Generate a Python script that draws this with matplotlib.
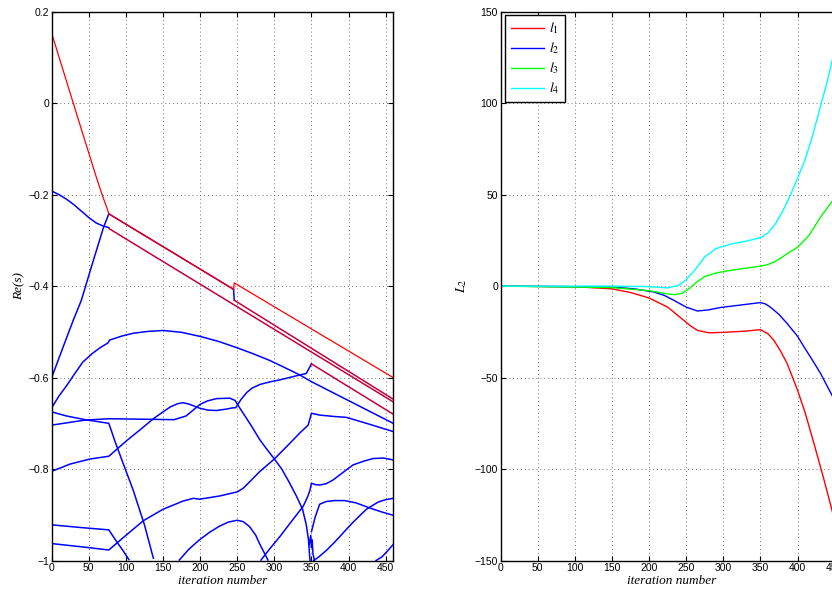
import numpy as np
import matplotlib
matplotlib.use("Agg")
import matplotlib.pyplot as plt

plt.rcParams['font.family'] = ['Liberation Sans', 'DejaVu Sans']
plt.rcParams['mathtext.fontset'] = 'stix'
plt.rcParams['axes.unicode_minus'] = True

# ---- left panel: real parts of the eigenvalues vs iteration ----
red_x = [0, 20, 40, 60, 69, 74, 77, 245, 246, 460]
red_y = [0.153, 0.048, -0.057, -0.161, -0.205, -0.227, -0.242, -0.407, -0.393, -0.600]

# branches where red and blue coincide (drawn dark crimson)
pa_x = [77, 245]
pa_y = [-0.242, -0.407]
pb_x = [77, 460]
pb_y = [-0.274, -0.653]
pc_x = [246, 460]
pc_y = [-0.431, -0.647]
pd_x = [350, 460]
pd_y = [-0.570, -0.680]

b1_x = [0, 10, 20, 30, 40, 50, 60, 70, 77]
b1_y = [-0.192, -0.200, -0.210, -0.222, -0.236, -0.250, -0.262, -0.269, -0.272]

b2_x = [0, 15, 29, 40, 52, 62, 70, 77]
b2_y = [-0.600, -0.535, -0.475, -0.431, -0.366, -0.313, -0.271, -0.242]

b3_x = [0, 10, 20, 30, 42, 55, 65, 76, 78, 95, 110, 130, 150, 175, 200, 225, 250,
        270, 293, 310, 334, 350, 460]
b3_y = [-0.666, -0.640, -0.618, -0.594, -0.566, -0.547, -0.535, -0.524, -0.518,
        -0.509, -0.503, -0.499, -0.497, -0.501, -0.510, -0.521, -0.535, -0.547,
        -0.562, -0.575, -0.594, -0.609, -0.700]

b4a_x = [0, 20, 45, 77, 85, 95, 110, 125, 137]
b4a_y = [-0.675, -0.684, -0.692, -0.700, -0.738, -0.782, -0.847, -0.922, -0.995]

b4b_x = [0, 20, 45, 77, 120, 165, 181, 190, 199.5, 210, 222, 240, 247, 250, 258,
         264, 270, 280, 290, 300, 310, 320.7, 330, 338, 343, 346, 348]
b4b_y = [-0.704, -0.699, -0.693, -0.690, -0.691, -0.692, -0.684, -0.672, -0.659,
         -0.651, -0.646, -0.645, -0.650, -0.658, -0.678, -0.693, -0.708, -0.735,
         -0.757, -0.778, -0.800, -0.831, -0.860, -0.888, -0.922, -0.955, -1.0]

b5_x = [0, 25, 52, 77, 101, 120, 137, 150, 160, 170, 177, 185, 199.5, 210, 222,
        235, 244.6, 248, 255, 262.6, 270, 280.6, 295, 307.5, 320, 330, 343, 350]
b5_y = [-0.805, -0.789, -0.778, -0.772, -0.738, -0.713, -0.690, -0.675, -0.664,
        -0.657, -0.655, -0.658, -0.667, -0.671, -0.672, -0.669, -0.666, -0.666,
        -0.648, -0.633, -0.623, -0.615, -0.609, -0.605, -0.600, -0.596, -0.591, -0.570]

b6_x = [0, 40, 77, 88, 96, 104]
b6_y = [-0.922, -0.928, -0.933, -0.960, -0.978, -0.998]

b7_x = [0, 40, 77, 100, 123.5, 150, 177, 191, 199, 226, 250, 258, 266.7, 280, 300,
        320.7, 335, 345.5, 350, 361, 380, 397, 424, 460]
b7_y = [-0.963, -0.970, -0.977, -0.945, -0.913, -0.888, -0.870, -0.864, -0.866,
        -0.859, -0.850, -0.842, -0.828, -0.806, -0.778, -0.744, -0.720, -0.704,
        -0.678, -0.682, -0.685, -0.687, -0.700, -0.718]

b8_x = [172, 185, 199, 213, 226, 238, 250, 258, 266.7, 275, 280, 286, 291.4]
b8_y = [-0.999, -0.975, -0.955, -0.938, -0.925, -0.916, -0.912, -0.915, -0.926,
        -0.945, -0.963, -0.982, -0.999]

b9_x = [282, 295, 307.3, 320, 330, 338.7, 345, 348, 350, 355, 361, 370, 379, 392,
        406, 420, 433, 447, 460]
b9_y = [-0.999, -0.972, -0.948, -0.921, -0.900, -0.882, -0.860, -0.846, -0.831,
        -0.834, -0.835, -0.832, -0.824, -0.808, -0.791, -0.783, -0.777, -0.776, -0.780]

b10_x = [350, 355, 361, 370, 381, 395, 410, 430, 445, 460]
b10_y = [-0.937, -0.905, -0.877, -0.871, -0.869, -0.869, -0.874, -0.886, -0.894, -0.901]

bz_x = [347, 349, 350, 351, 352, 354]
bz_y = [-0.965, -0.945, -0.972, -0.955, -0.985, -1.0]

b11_x = [353, 360, 370, 380, 388, 397, 405, 415, 424, 432, 440, 450, 460]
b11_y = [-1.0, -0.992, -0.978, -0.962, -0.948, -0.932, -0.918, -0.902, -0.888,
         -0.880, -0.872, -0.867, -0.864]

b12_x = [437, 445, 452, 460]
b12_y = [-1.0, -0.992, -0.980, -0.965]

bj_x = [245, 246]
bj_y = [-0.407, -0.431]

blue_curves = [(b1_x, b1_y), (b2_x, b2_y), (b3_x, b3_y), (b4a_x, b4a_y),
               (b4b_x, b4b_y), (b5_x, b5_y), (b6_x, b6_y), (b7_x, b7_y),
               (b8_x, b8_y), (b9_x, b9_y), (b10_x, b10_y), (bz_x, bz_y),
               (b11_x, b11_y), (b12_x, b12_y), (bj_x, bj_y)]
purple_curves = [(pa_x, pa_y), (pb_x, pb_y), (pc_x, pc_y), (pd_x, pd_y)]

# ---- right panel: L2 components ----
it_l1 = [0, 100, 150, 175, 200, 225, 240, 255, 265, 280, 300, 330, 350, 360, 368,
         377, 386, 400, 410, 422, 435, 447.5, 460]
l1 = [0, -0.3, -1.5, -3.5, -6.5, -11.5, -16.5, -21.5, -24.2, -25.5, -25.3, -24.6,
      -23.8, -26, -29.6, -35.5, -42.4, -57, -69, -86, -105, -124.3, -145]

it_l2 = [0, 150, 180, 206, 220, 233, 250, 265, 280, 296, 320, 350, 357, 363, 375,
         386, 400, 408.6, 420, 431, 447.5, 460]
l2 = [0, -0.5, -1.5, -3.2, -5, -7.7, -11.5, -13.6, -13, -11.7, -10.5, -9.0, -9.8,
      -11.4, -15.5, -20.5, -27.5, -33.2, -40.5, -47.8, -60.6, -71]

it_l3 = [0, 150, 200, 225, 235, 245, 255, 265, 275, 290, 310, 330, 350, 360, 370,
         386, 400, 415, 431, 447.5, 460]
l3 = [0, -0.8, -2.5, -4.3, -4.7, -3.8, -1, 2.5, 5.2, 7.2, 8.6, 9.8, 10.9, 11.8,
      13.5, 17.7, 21.3, 27.5, 37.8, 46.9, 55]

it_l4 = [0, 150, 200, 225, 240, 250, 262, 275, 290, 310, 330, 350, 360, 370, 380,
         390, 400, 410, 420, 430, 440, 447.5, 460]
l4 = [0, 0, -0.3, -1, 0.5, 3.5, 9, 16, 20.5, 23, 24.5, 26.5, 29, 34, 41, 49.5, 59,
      69, 82, 97, 112, 125, 148]

legend_labels = [r'$l_{\mathit{1}}$', r'$l_{\mathit{2}}$', r'$l_{\mathit{3}}$', r'$l_{\mathit{4}}$']
line_colors = ['#ff0000', '#0000ff', '#00ff00', '#00ffff']

xticks = np.arange(0, 451, 50)


def style_axes(ax):
    ax.set_xlim(0, 460)
    ax.set_xticks(xticks)
    ax.grid(True, color='0.45', linestyle=(0, (1, 3)), linewidth=0.7)
    ax.tick_params(direction='in', length=3.5, width=0.8, top=True, right=True,
                   labelsize=7.5, pad=2)
    for s in ax.spines.values():
        s.set_linewidth(1.0)


fig = plt.figure(figsize=(8.32, 5.92), dpi=100)

ax1 = fig.add_axes([0.0621, 0.0532, 0.4104, 0.927])
for bx, by in blue_curves:
    ax1.plot(bx, by, color='#0000ff', linewidth=1.1)
ax1.plot(red_x, red_y, color='#ff0000', linewidth=0.9)
for px, py in purple_curves:
    ax1.plot(px, py, color='#c4003a', linewidth=1.1)
style_axes(ax1)
ax1.set_ylim(-1, 0.2)
ax1.set_yticks([-1, -0.8, -0.6, -0.4, -0.2, 0, 0.2])
ax1.set_yticklabels(['\u22121', '\u22120.8', '\u22120.6', '\u22120.4', '\u22120.2', '0', '0.2'])
ax1.set_xlabel('iteration number', family='Liberation Serif', style='italic',
               fontsize=9.5, labelpad=1)
ax1.set_ylabel('Re(s)', family='Liberation Serif', style='italic', fontsize=9.5,
               labelpad=2)

ax2 = fig.add_axes([0.6018, 0.0532, 0.4104, 0.927])
series = [(it_l1, l1), (it_l2, l2), (it_l3, l3), (it_l4, l4)]
for (sx, sy), c, lab in zip(series, line_colors, legend_labels):
    ax2.plot(sx, sy, color=c, linewidth=1.0, label=lab)
style_axes(ax2)
ax2.set_ylim(-150, 150)
ax2.set_yticks(np.arange(-150, 151, 50))
ax2.set_yticklabels(['\u2212150', '\u2212100', '\u221250', '0', '50', '100', '150'])
ax2.set_xlabel('iteration number', family='Liberation Serif', style='italic',
               fontsize=9.5, labelpad=1)
ax2.set_ylabel(r'$L_2$', fontsize=10, labelpad=4)
leg = ax2.legend(loc='upper left', bbox_to_anchor=(0.0126, 0.994), borderaxespad=0,
                 fontsize=10, handlelength=2.4, labelspacing=0.3, fancybox=False,
                 framealpha=1, edgecolor='black', borderpad=0.4, handletextpad=0.4)
leg.get_frame().set_linewidth(1.0)

fig.savefig('out.png', dpi=100)
